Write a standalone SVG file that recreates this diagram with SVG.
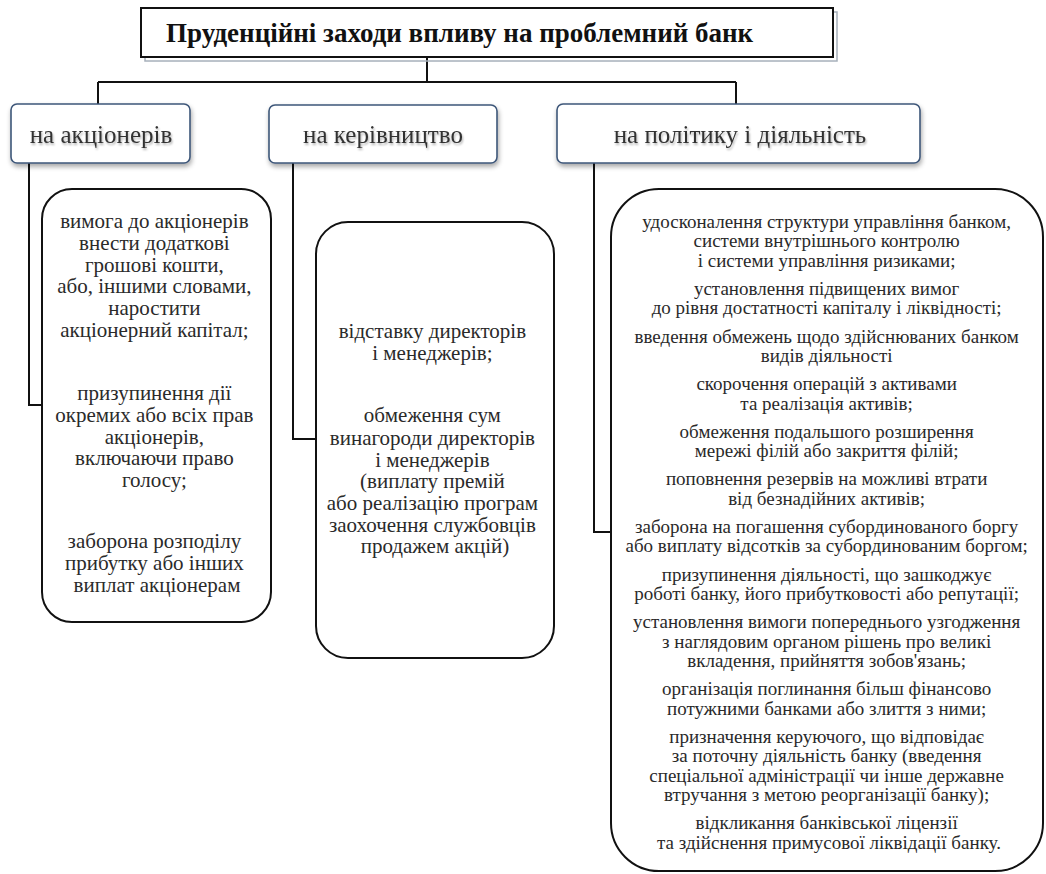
<svg xmlns="http://www.w3.org/2000/svg" width="1046" height="874" viewBox="0 0 1046 874">
<defs>
<filter id="sh" x="-10%" y="-20%" width="120%" height="150%">
<feGaussianBlur in="SourceAlpha" stdDeviation="2.5"/>
<feOffset dx="1" dy="3" result="b"/>
<feComponentTransfer><feFuncA type="linear" slope="0.35"/></feComponentTransfer>
<feMerge><feMergeNode/><feMergeNode in="SourceGraphic"/></feMerge>
</filter>
<filter id="tsh" x="-5%" y="-20%" width="110%" height="150%">
<feGaussianBlur in="SourceAlpha" stdDeviation="1"/>
<feOffset dx="1" dy="1.5"/>
<feComponentTransfer><feFuncA type="linear" slope="0.3"/></feComponentTransfer>
<feMerge><feMergeNode/><feMergeNode in="SourceGraphic"/></feMerge>
</filter>
</defs>
<style>
.ttl{font-family:"Liberation Serif","Times New Roman",serif;font-weight:bold;font-size:27px;fill:#111}
.hdr{fill:#fff;stroke:#3e5779;stroke-width:1.6}
.htx{font-family:"Liberation Serif","Times New Roman",serif;font-size:25px;fill:#333;text-anchor:middle}
.box{fill:#fff;stroke:#111;stroke-width:2}
.t1{font-family:"Liberation Serif","Times New Roman",serif;font-size:21px;fill:#2a2a2a;text-anchor:middle}
.t2{font-family:"Liberation Serif","Times New Roman",serif;font-size:19px;fill:#2a2a2a;text-anchor:middle}
.con{fill:none;stroke:#111;stroke-width:2}
</style>
<rect width="1046" height="874" fill="#fff"/>

<g id="connectors">
<path class="con" d="M427 57 V82 M98 82 H736 M98 82 V104 M736 82 V104"/>
<path class="con" d="M29 163 V405 H42"/>
<path class="con" d="M293 163 V439 H316"/>
<path class="con" d="M594 163 V532 H611"/>
</g>

<g id="title">
<rect x="145" y="12" width="692" height="49" fill="none" stroke="#a7b0bb" stroke-width="1.5"/>
<rect x="141" y="8" width="692" height="49" fill="#fff" stroke="#111" stroke-width="2"/>
<text class="ttl" x="166" y="42">Пруденційні заходи впливу на проблемний банк</text>
</g>

<g id="h-shareholders">
<rect class="hdr" x="11" y="104" width="179" height="59" rx="6" filter="url(#sh)"/>
<text class="htx" x="101" y="143" filter="url(#tsh)">на акціонерів</text>
</g>
<g id="h-management">
<rect class="hdr" x="269" y="105" width="228" height="58" rx="6" filter="url(#sh)"/>
<text class="htx" x="383" y="143" filter="url(#tsh)">на керівництво</text>
</g>
<g id="h-policy">
<rect class="hdr" x="557" y="104" width="363" height="59" rx="6" filter="url(#sh)"/>
<text class="htx" x="740" y="143" filter="url(#tsh)">на політику і діяльність</text>
</g>

<g id="b-shareholders">
<rect class="box" x="42" y="189" width="229" height="433" rx="30"/>
<text class="t1">
<tspan x="157" y="228">вимога до акціонерів</tspan>
<tspan x="157" y="250">внести додаткові</tspan>
<tspan x="157" y="272">грошові кошти,</tspan>
<tspan x="157" y="293">або, іншими словами,</tspan>
<tspan x="157" y="315">наростити</tspan>
<tspan x="157" y="337">акціонерний капітал;</tspan>
<tspan x="157" y="400">призупинення дії</tspan>
<tspan x="157" y="422">окремих або всіх прав</tspan>
<tspan x="157" y="444">акціонерів,</tspan>
<tspan x="157" y="465">включаючи право</tspan>
<tspan x="157" y="487">голосу;</tspan>
<tspan x="157" y="548">заборона розподілу</tspan>
<tspan x="157" y="570">прибутку або інших</tspan>
<tspan x="157" y="592">виплат акціонерам</tspan>
</text>
</g>

<g id="b-management">
<rect class="box" x="316" y="222" width="238" height="436" rx="32"/>
<text class="t1">
<tspan x="435" y="338">відставку директорів</tspan>
<tspan x="435" y="360">і менеджерів;</tspan>
<tspan x="435" y="422">обмеження сум</tspan>
<tspan x="435" y="445">винагороди директорів</tspan>
<tspan x="435" y="467">і менеджерів</tspan>
<tspan x="435" y="488">(виплату премій</tspan>
<tspan x="435" y="510">або реалізацію програм</tspan>
<tspan x="435" y="532">заохочення службовців</tspan>
<tspan x="435" y="553">продажем акцій)</tspan>
</text>
</g>

<g id="b-policy">
<rect class="box" x="611" y="189" width="432" height="682" rx="48"/>
<text class="t2">
<tspan x="829" y="228">удосконалення структури управління банком,</tspan>
<tspan x="829" y="247.4">системи внутрішнього контролю</tspan>
<tspan x="829" y="266.8">і системи управління ризиками;</tspan>
<tspan x="829" y="295">установлення підвищених вимог</tspan>
<tspan x="829" y="314.4">до рівня достатності капіталу і ліквідності;</tspan>
<tspan x="829" y="342.6">введення обмежень щодо здійснюваних банком</tspan>
<tspan x="829" y="362">видів діяльності</tspan>
<tspan x="829" y="390.2">скорочення операцій з активами</tspan>
<tspan x="829" y="409.6">та реалізація активів;</tspan>
<tspan x="829" y="437.8">обмеження подальшого розширення</tspan>
<tspan x="829" y="457.2">мережі філій або закриття філій;</tspan>
<tspan x="829" y="485.4">поповнення резервів на можливі втрати</tspan>
<tspan x="829" y="504.8">від безнадійних активів;</tspan>
<tspan x="829" y="533">заборона на погашення субординованого боргу</tspan>
<tspan x="829" y="552.4">або виплату відсотків за субординованим боргом;</tspan>
<tspan x="829" y="580.6">призупинення діяльності, що зашкоджує</tspan>
<tspan x="829" y="600">роботі банку, його прибутковості або репутації;</tspan>
<tspan x="829" y="628.2">установлення вимоги попереднього узгодження</tspan>
<tspan x="829" y="647.6">з наглядовим органом рішень про великі</tspan>
<tspan x="829" y="667">вкладення, прийняття зобов'язань;</tspan>
<tspan x="829" y="695.2">організація поглинання більш фінансово</tspan>
<tspan x="829" y="714.6">потужними банками або злиття з ними;</tspan>
<tspan x="829" y="742.8">призначення керуючого, що відповідає</tspan>
<tspan x="829" y="762.2">за поточну діяльність банку (введення</tspan>
<tspan x="829" y="781.6">спеціальної адміністрації чи інше державне</tspan>
<tspan x="829" y="801">втручання з метою реорганізації банку);</tspan>
<tspan x="829" y="829.2">відкликання банківської ліцензії</tspan>
<tspan x="829" y="848.6">та здійснення примусової ліквідації банку.</tspan>
</text>
</g>
</svg>
